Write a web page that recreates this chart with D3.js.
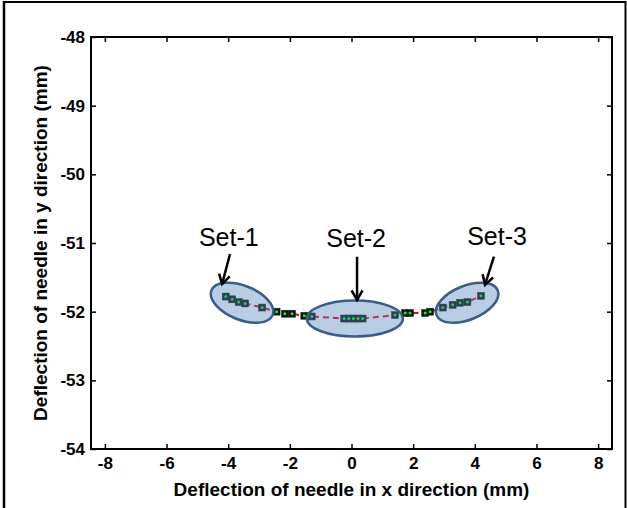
<!DOCTYPE html>
<html><head><meta charset="utf-8">
<script src="https://cdn.jsdelivr.net/npm/d3@7"></script>
<style>body{margin:0;background:#fff;} svg{display:block;}</style>
</head><body>
<script>
// ---- data ----
const xVals = [-4.08,-3.87,-3.66,-3.45,-2.90,-2.43,-2.16,-1.93,-1.53,-1.29,-0.24,-0.09,0.06,0.21,0.36,1.41,1.74,1.90,2.39,2.55,2.96,3.28,3.52,3.76,4.20];
const yVals = [-51.78,-51.82,-51.86,-51.88,-51.94,-52.00,-52.03,-52.03,-52.06,-52.07,-52.10,-52.10,-52.10,-52.10,-52.10,-52.05,-52.02,-52.02,-52.02,-52.00,-51.94,-51.90,-51.87,-51.86,-51.77];
const xTicks = [-8,-6,-4,-2,0,2,4,6,8];
const yTicks = [-54,-53,-52,-51,-50,-49,-48];
const setNames = ["Set-1","Set-2","Set-3"];
const setCx = [-3.55, 0.11, 3.75];
const setCy = [-51.87, -52.10, -51.87];
const labelX = [-3.98, 0.15, 4.72];
const labelY = [-51.04, -51.06, -51.03];
const arrowFromX = [-3.94, 0.18, 4.62];
const arrowFromY = [-51.16, -51.20, -51.20];
const arrowToX = [-4.20, 0.18, 4.33];
const arrowToY = [-51.60, -51.83, -51.61];

const W = 627, H = 508;
const svg = d3.select("body").append("svg").attr("width", W).attr("height", H);

// outer frame
svg.append("line").attr("x1",4).attr("x2",4).attr("y1",1).attr("y2",H).attr("stroke","#000").attr("stroke-width",2.5);
svg.append("line").attr("x1",3).attr("x2",626).attr("y1",2).attr("y2",2).attr("stroke","#000").attr("stroke-width",2);
svg.append("line").attr("x1",625.5).attr("x2",625.5).attr("y1",1).attr("y2",H).attr("stroke","#000").attr("stroke-width",2);

const L = 91, R = 612, T = 37, B = 449;
const x = d3.scaleLinear().domain([-8.45, 8.45]).range([L, R]);
const y = d3.scaleLinear().domain([-54, -48]).range([B, T]);

const font = "Arial, 'Liberation Sans', sans-serif";

function styleAxis(g){
  g.select(".domain").remove();
  g.selectAll(".tick line").attr("stroke","#000").attr("stroke-width",1.5);
  g.selectAll(".tick text").attr("fill","#000").attr("font-family",font).attr("font-weight","bold").attr("font-size","17px");
}
svg.append("g").attr("transform",`translate(0,${B})`)
  .call(d3.axisBottom(x).tickValues(xTicks).tickFormat(d3.format("d")).tickSize(-5).tickPadding(8)).call(styleAxis);
svg.append("g").attr("transform",`translate(0,${T})`)
  .call(d3.axisTop(x).tickValues(xTicks).tickFormat("").tickSize(-5)).call(styleAxis);
svg.append("g").attr("transform",`translate(${L},0)`)
  .call(d3.axisLeft(y).tickValues(yTicks).tickFormat(d3.format("d")).tickSize(-5).tickPadding(6)).call(styleAxis);
svg.append("g").attr("transform",`translate(${R},0)`)
  .call(d3.axisRight(y).tickValues(yTicks).tickFormat("").tickSize(-5)).call(styleAxis);
svg.selectAll(".tick text").text(function(){return this.textContent.replace("\u2212","-");});

svg.append("rect").attr("x",L).attr("y",T).attr("width",R-L).attr("height",B-T)
  .attr("fill","none").attr("stroke","#000").attr("stroke-width",2);

// data line
const pts = xVals.map((v,i)=>[v,yVals[i]]);
svg.append("path").datum(pts)
  .attr("d", d3.line().x(d=>x(d[0])).y(d=>y(d[1])))
  .attr("fill","none").attr("stroke","#ff0000").attr("stroke-width",2).attr("stroke-dasharray","6,4");

const s = 7;
svg.append("g").selectAll("rect").data(pts).join("rect")
  .attr("x",d=>x(d[0])-s/2).attr("y",d=>y(d[1])-s/2).attr("width",s).attr("height",s)
  .attr("fill","#111").attr("stroke","#222").attr("stroke-width",0.5);
svg.append("g").selectAll("circle").data(pts).join("circle")
  .attr("cx",d=>x(d[0])).attr("cy",d=>y(d[1])).attr("r",1.5).attr("fill","#00ff00");

// ellipses
const ellRx = [33, 48, 33], ellRy = [17, 18, 17], ellRot = [22, 0, -22];
setNames.forEach((n,i)=>{
  svg.append("ellipse")
    .attr("transform",`translate(${x(setCx[i])},${y(setCy[i])}) rotate(${ellRot[i]})`)
    .attr("rx",ellRx[i]).attr("ry",ellRy[i])
    .attr("fill","rgba(79,129,189,0.4)").attr("stroke","#385d8a").attr("stroke-width",2.5);
});

// arrows
setNames.forEach((n,i)=>{
  const x1=x(arrowFromX[i]), y1=y(arrowFromY[i]), x2=x(arrowToX[i]), y2=y(arrowToY[i]);
  const a = Math.atan2(y2-y1,x2-x1), len=11, ha=Math.PI/6;
  svg.append("line").attr("x1",x1).attr("y1",y1).attr("x2",x2).attr("y2",y2)
    .attr("stroke","#000").attr("stroke-width",2.5);
  svg.append("path")
    .attr("d",`M${x2-len*Math.cos(a-ha)},${y2-len*Math.sin(a-ha)}L${x2},${y2}L${x2-len*Math.cos(a+ha)},${y2-len*Math.sin(a+ha)}`)
    .attr("fill","none").attr("stroke","#000").attr("stroke-width",2.5).attr("stroke-linejoin","miter");
  svg.append("text").attr("x",x(labelX[i])).attr("y",y(labelY[i]))
    .attr("text-anchor","middle").attr("font-family",font).attr("font-size","25px").attr("fill","#000")
    .text(n);
});

// axis titles
svg.append("text").attr("x",(L+R)/2).attr("y",496).attr("text-anchor","middle")
  .attr("font-family",font).attr("font-weight","bold").attr("font-size","19px").attr("fill","#000")
  .text("Deflection of needle in x direction (mm)");
svg.append("text").attr("transform",`translate(47,${(T+B)/2}) rotate(-90)`).attr("text-anchor","middle")
  .attr("font-family",font).attr("font-weight","bold").attr("font-size","19px").attr("fill","#000")
  .text("Deflection of needle in y direction (mm)");
</script>
</body></html>
